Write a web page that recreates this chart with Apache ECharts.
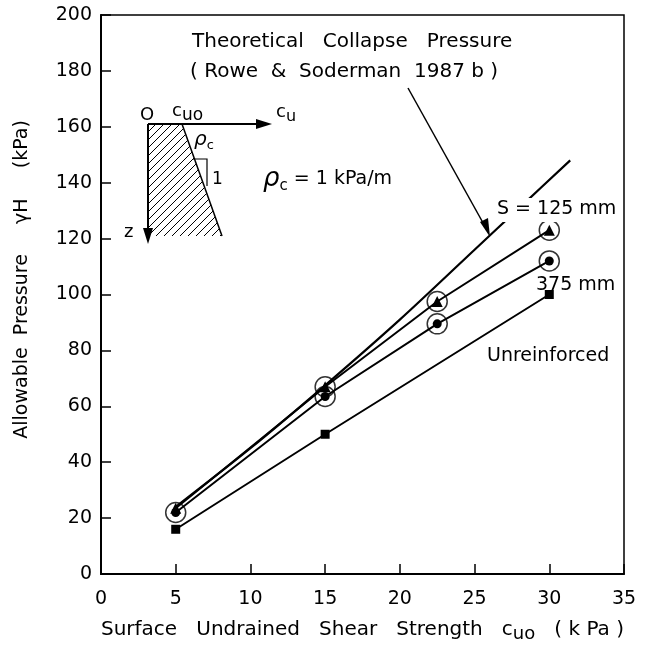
<!DOCTYPE html>
<html>
<head>
<meta charset="utf-8">
<script src="https://cdn.jsdelivr.net/npm/echarts@6/dist/echarts.min.js"></script>
<style>
  html, body { margin: 0; padding: 0; background: #fff; }
  #main { width: 650px; height: 648px; }
</style>
</head>
<body>
<div id="main"></div>
<script>
// values
const unreinforcedX = [5, 15, 30];
const unreinforcedY = [16, 50, 100];
const s375X = [5, 15, 22.5, 30];
const s375Y = [22, 63.5, 89.5, 112];
const s125X = [5, 15, 22.5, 30];
const s125Y = [23.5, 67, 97.5, 123];
const theoryX = [5, 10, 15, 20, 25, 28, 31.4];
const theoryY = [24, 45, 67.5, 91, 116, 131, 148];
// circled points (rings)
const ringX = [5, 15, 15, 22.5, 22.5, 30, 30];
const ringY = [22, 63.5, 67, 89.5, 97.5, 112, 123];

const zip = (xs, ys) => xs.map((x, i) => [x, ys[i]]);

const FONT = 'DejaVu Sans';
const chart = echarts.init(document.getElementById('main'));

// hatch pattern for the inset
const pat = document.createElement('canvas');
pat.width = 8; pat.height = 8;
const pc = pat.getContext('2d');
pc.strokeStyle = '#000';
pc.lineWidth = 1;
pc.beginPath();
pc.moveTo(0, 8); pc.lineTo(8, 0);
pc.moveTo(-2, 2); pc.lineTo(2, -2);
pc.moveTo(6, 10); pc.lineTo(10, 6);
pc.stroke();

const txt = (left, top, text, size) => ({
    type: 'text', left: left, top: top, z: 100,
    style: { text: text, font: size + 'px "DejaVu Sans"', fill: '#000' }
});

const option = {
    backgroundColor: '#fff',
    animation: false,
    grid: {
        left: 101, right: 26, top: 15, bottom: 67,
        show: true, borderColor: '#000', borderWidth: 1.5, backgroundColor: 'transparent'
    },
    xAxis: {
        type: 'value', min: 0, max: 35, interval: 5,
        name: '{t|Surface   Undrained   Shear   Strength   c}{s|uo}{t|   ( k Pa )}',
        nameLocation: 'middle', nameGap: 42,
        nameTextStyle: {
            rich: {
                t: { fontFamily: FONT, fontSize: 20, color: '#000' },
                s: { fontFamily: FONT, fontSize: 18, color: '#000', verticalAlign: 'bottom', padding: [9, 0, 0, 0] }
            }
        },
        axisLine: { lineStyle: { color: '#000', width: 2 } },
        axisTick: { inside: true, length: 10, lineStyle: { color: '#000', width: 1.5 } },
        axisLabel: { fontFamily: FONT, fontSize: 19, color: '#000', margin: 16 },
        splitLine: { show: false }
    },
    yAxis: {
        type: 'value', min: 0, max: 200, interval: 20,
        name: '     Allowable  Pressure     γH     (kPa)',
        nameLocation: 'middle', nameGap: 69,
        nameTextStyle: { fontFamily: FONT, fontSize: 19, color: '#000' },
        axisLine: { lineStyle: { color: '#000', width: 2 } },
        axisTick: { inside: true, length: 10, lineStyle: { color: '#000', width: 1.5 } },
        axisLabel: { fontFamily: FONT, fontSize: 19, color: '#000', margin: 9 },
        splitLine: { show: false }
    },
    series: [
        {
            name: 'Theory', type: 'line', smooth: 0.3, symbol: 'none',
            data: zip(theoryX, theoryY),
            lineStyle: { color: '#000', width: 2.2 }, z: 3
        },
        {
            name: 'S = 125 mm', type: 'line', symbol: 'triangle', symbolSize: 11,
            data: zip(s125X, s125Y),
            lineStyle: { color: '#000', width: 2 }, itemStyle: { color: '#000' }, z: 4
        },
        {
            name: '375 mm', type: 'line', symbol: 'circle', symbolSize: 9,
            data: zip(s375X, s375Y),
            lineStyle: { color: '#000', width: 2 }, itemStyle: { color: '#000' }, z: 4
        },
        {
            name: 'Unreinforced', type: 'line', symbol: 'rect', symbolSize: 9,
            data: zip(unreinforcedX, unreinforcedY),
            lineStyle: { color: '#000', width: 2 }, itemStyle: { color: '#000' }, z: 4
        },
        {
            name: 'rings', type: 'scatter', symbol: 'circle', symbolSize: 20,
            data: zip(ringX, ringY),
            itemStyle: { color: 'rgba(0,0,0,0)', borderColor: '#000', borderWidth: 1.5 }, z: 5
        }
    ],
    graphic: [
        // annotation
        txt(192, 32, 'Theoretical   Collapse   Pressure', 20),
        txt(190, 62, '( Rowe  &  Soderman  1987 b )', 20),
        { type: 'line', z: 100, shape: { x1: 408, y1: 88, x2: 487, y2: 230 }, style: { stroke: '#000', lineWidth: 1.5 } },
        { type: 'polygon', z: 100, shape: { points: [[490, 237], [480, 222], [488, 218]] }, style: { fill: '#000' } },
        { type: 'rect', z: 99, shape: { x: 496, y: 198, width: 114, height: 24 }, style: { fill: '#fff' } },
        txt(497, 200, 'S = 125 mm', 19),
        txt(536, 276, '375 mm', 19),
        txt(487, 347, 'Unreinforced', 19),
        { type: 'text', left: 263, top: 166, z: 100,
          style: {
              text: '{r|ρ}{s|c}{t| = 1 kPa/m}',
              rich: {
                  r: { fontFamily: FONT, fontSize: 26, fontStyle: 'italic', fill: '#000' },
                  s: { fontFamily: FONT, fontSize: 15, fill: '#000', padding: [15, 0, 0, 0] },
                  t: { fontFamily: FONT, fontSize: 19, fill: '#000' }
              }
          } },
        // inset diagram
        { type: 'polygon', z: 100, shape: { points: [[148, 124], [182, 124], [222, 236], [148, 236]] },
          style: { fill: { image: pat, repeat: 'repeat' }, stroke: null } },
        { type: 'line', z: 100, shape: { x1: 182, y1: 124, x2: 222, y2: 236 }, style: { stroke: '#000', lineWidth: 1.5 } },
        { type: 'line', z: 100, shape: { x1: 148, y1: 124, x2: 258, y2: 124 }, style: { stroke: '#000', lineWidth: 2 } },
        { type: 'polygon', z: 100, shape: { points: [[272, 124], [256, 119], [256, 129]] }, style: { fill: '#000' } },
        { type: 'line', z: 100, shape: { x1: 148, y1: 124, x2: 148, y2: 230 }, style: { stroke: '#000', lineWidth: 2 } },
        { type: 'polygon', z: 100, shape: { points: [[148, 244], [143, 228], [153, 228]] }, style: { fill: '#000' } },
        { type: 'polyline', z: 100, shape: { points: [[193, 159], [207, 159], [207, 186]] }, style: { stroke: '#000', lineWidth: 1.2, fill: null } },
        txt(140, 106, 'O', 18),
        { type: 'text', left: 172, top: 102, z: 100,
          style: {
              text: '{a|c}{b|uo}',
              rich: {
                  a: { fontFamily: FONT, fontSize: 18, fill: '#000' },
                  b: { fontFamily: FONT, fontSize: 17, fill: '#000', padding: [9, 0, 0, 0] }
              }
          } },
        { type: 'text', left: 276, top: 103, z: 100,
          style: {
              text: '{a|c}{b|u}',
              rich: {
                  a: { fontFamily: FONT, fontSize: 18, fill: '#000' },
                  b: { fontFamily: FONT, fontSize: 16, fill: '#000', padding: [9, 0, 0, 0] }
              }
          } },
        { type: 'text', left: 194, top: 130, z: 100,
          style: {
              text: '{r|ρ}{s|c}',
              rich: {
                  r: { fontFamily: FONT, fontSize: 20, fontStyle: 'italic', fill: '#000' },
                  s: { fontFamily: FONT, fontSize: 13, fill: '#000', padding: [11, 0, 0, 0] }
              }
          } },
        txt(212, 171, '1', 17),
        txt(124, 223, 'z', 18)
    ]
};

option && chart.setOption(option);
</script>
</body>
</html>
